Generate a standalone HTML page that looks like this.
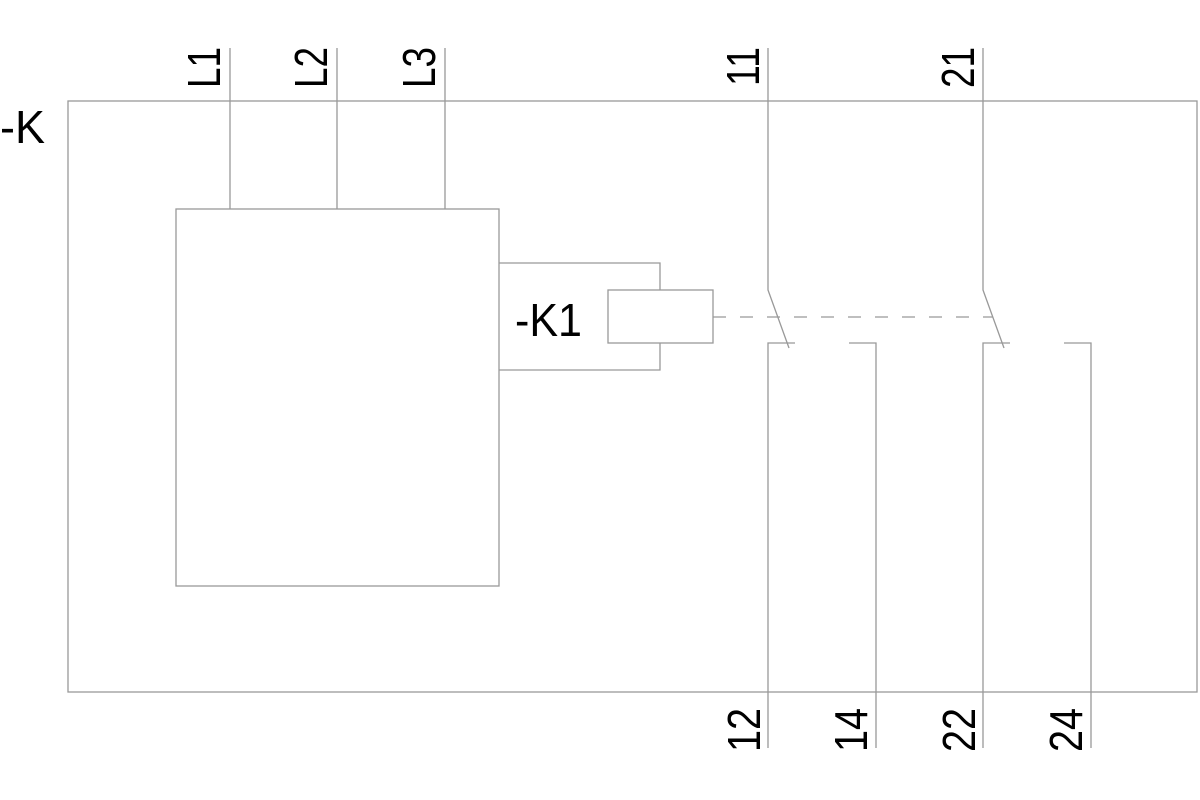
<!DOCTYPE html>
<html><head><meta charset="utf-8"><style>html,body{margin:0;padding:0;background:#fff;}svg{display:block}</style></head>
<body>
<svg width="1200" height="800" viewBox="0 0 1200 800" xmlns="http://www.w3.org/2000/svg">
<g fill="none" stroke="#999" stroke-width="1.3">
<rect x="68" y="101" width="1129" height="591"/>
<rect x="176" y="209" width="323" height="377"/>
<line x1="230" y1="48" x2="230" y2="209"/>
<line x1="337" y1="48" x2="337" y2="209"/>
<line x1="445" y1="48" x2="445" y2="209"/>
<polyline points="499,263 660,263 660,290"/>
<polyline points="660,343 660,370 499,370"/>
<rect x="608" y="290" width="105" height="53"/>
<line x1="713" y1="317" x2="993" y2="317" stroke-dasharray="13,14"/>
<polyline points="768,48 768,290 789,348"/>
<polyline points="795,343 768,343 768,748"/>
<polyline points="849,343 876,343 876,748"/>
<polyline points="983,48 983,290 1004,348"/>
<polyline points="1010,343 983,343 983,748"/>
<polyline points="1064,343 1091,343 1091,748"/>
</g>
<g font-family="Liberation Sans, sans-serif" font-size="46" fill="#000" lengthAdjust="spacingAndGlyphs">
<text x="0" y="143" textLength="45" lengthAdjust="spacingAndGlyphs">-K</text>
<text x="515" y="336" textLength="67" lengthAdjust="spacingAndGlyphs">-K1</text>
<text transform="translate(220,88) rotate(-90)" textLength="41" lengthAdjust="spacingAndGlyphs">L1</text>
<text transform="translate(327,88) rotate(-90)" textLength="41" lengthAdjust="spacingAndGlyphs">L2</text>
<text transform="translate(435,88) rotate(-90)" textLength="41" lengthAdjust="spacingAndGlyphs">L3</text>
<text transform="translate(759,86) rotate(-90)" textLength="39" lengthAdjust="spacingAndGlyphs">11</text>
<text transform="translate(974,88) rotate(-90)" textLength="41" lengthAdjust="spacingAndGlyphs">21</text>
<text transform="translate(760,752) rotate(-90)" textLength="44" lengthAdjust="spacingAndGlyphs">12</text>
<text transform="translate(867,752) rotate(-90)" textLength="44" lengthAdjust="spacingAndGlyphs">14</text>
<text transform="translate(975,752) rotate(-90)" textLength="44" lengthAdjust="spacingAndGlyphs">22</text>
<text transform="translate(1082,752) rotate(-90)" textLength="44" lengthAdjust="spacingAndGlyphs">24</text>
</g>
</svg>
</body></html>
